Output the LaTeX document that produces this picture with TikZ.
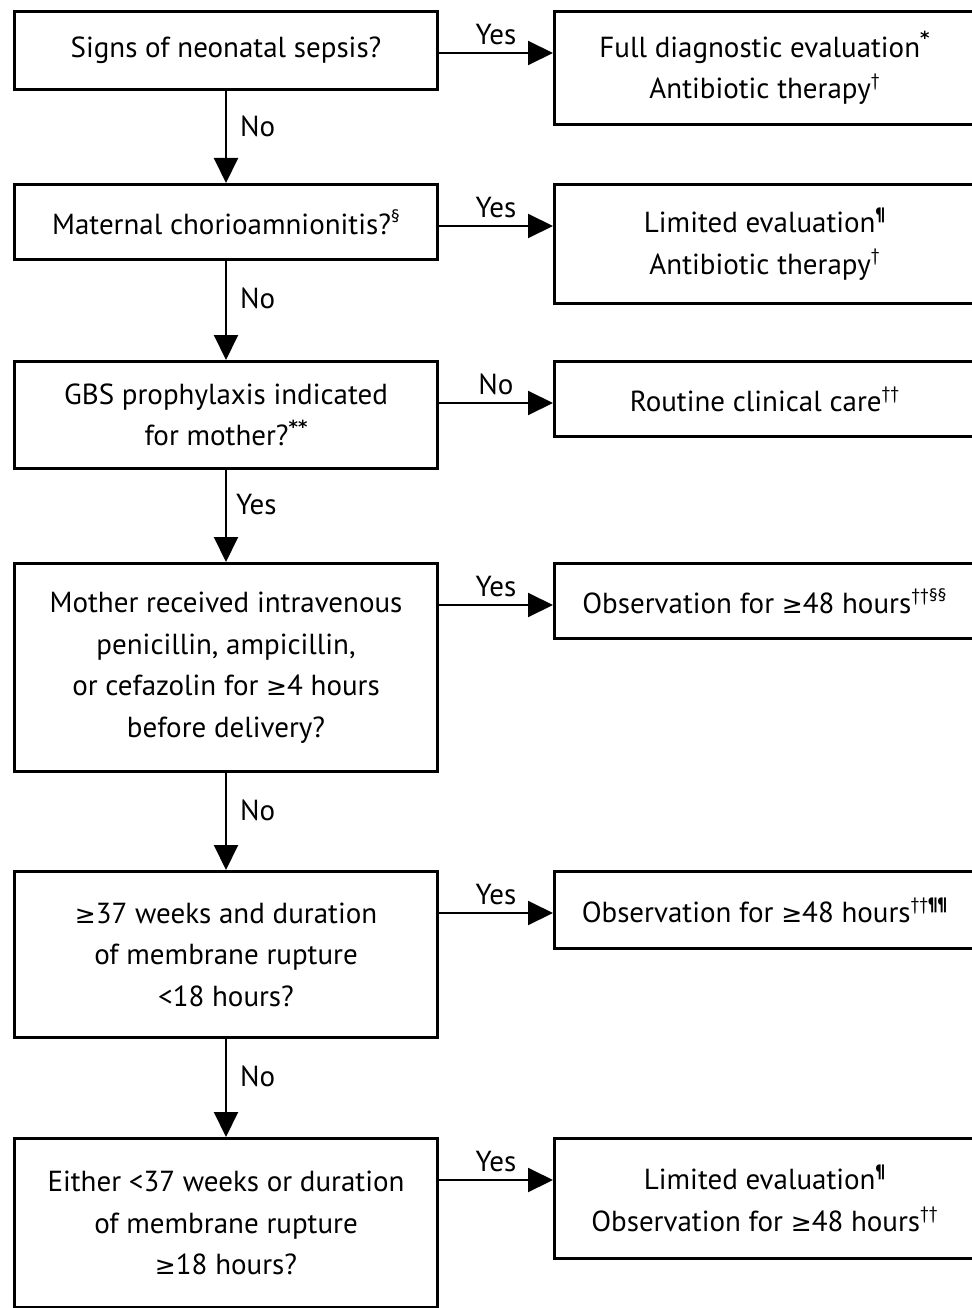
\documentclass[tikz,border=0pt]{standalone}
\usepackage{fontspec}
\setmainfont{PT Sans}
\newfontfamily\symfont{DejaVu Sans}
\usetikzlibrary{arrows.meta,positioning}
\newcommand{\fnm}[1]{\raisebox{0.42em}{\fontsize{18}{18}\selectfont #1}}
\newcommand{\gte}{{\symfont\fontsize{25}{25}\selectfont ≥}}
\newcommand{\fnast}{{\symfont\bfseries *}}
\tikzset{
  qbox/.style={draw=black,line width=3pt,fill=white,align=center,
               minimum width=423pt,inner sep=6pt,font=\fontsize{29}{41.5}\selectfont},
  abox/.style={qbox,minimum width=420pt},
  flow/.style={-{Triangle[length=25pt,width=24pt]},draw=black,line width=2pt},
  lbl/.style={font=\fontsize{29}{32}\selectfont,inner sep=3pt},
}

\begin{document}
\begin{tikzpicture}
  \useasboundingbox (0pt,0pt) rectangle (971pt,-1308pt);

  % Decision column
  \node[qbox,minimum height=78pt,anchor=north west] (q1) at (13pt,-10pt) {Signs of neonatal sepsis?};
  \node[qbox,minimum height=75pt,below=92pt of q1] (q2) {Maternal chorioamnionitis?\fnm{§}};
  \node[qbox,minimum height=107pt,below=99pt of q2] (q3) {GBS prophylaxis indicated\\for mother?\fnm{\fnast\fnast}};
  \node[qbox,minimum height=208pt,below=92pt of q3] (q4) {Mother received intravenous\\penicillin, ampicillin,\\or cefazolin for \gte4 hours\\before delivery?};
  \node[qbox,minimum height=166pt,below=97pt of q4] (q5) {\gte37 weeks and duration\\of membrane rupture\\<18 hours?};
  \node[qbox,minimum height=169pt,below=98pt of q5] (q6) {Either <37 weeks or duration\\of membrane rupture\\\gte18 hours?};

  % Action column
  \node[abox,minimum height=113pt,right=114pt of q1.north east,anchor=north west] (r1) {Full diagnostic evaluation\fnm{\fnast}\\Antibiotic therapy\fnm{†}};
  \node[abox,minimum height=119pt,right=114pt of q2.north east,anchor=north west] (r2) {Limited evaluation\fnm{\bfseries ¶}\\Antibiotic therapy\fnm{†}};
  \node[abox,minimum height=75pt,right=114pt of q3.north east,anchor=north west] (r3) {Routine clinical care\fnm{††}};
  \node[abox,minimum height=75pt,right=114pt of q4.north east,anchor=north west] (r4) {Observation for \gte48 hours\fnm{††§§}};
  \node[abox,minimum height=77pt,right=114pt of q5.north east,anchor=north west] (r5) {Observation for \gte48 hours\fnm{††\bfseries ¶¶}};
  \node[abox,minimum height=120pt,right=114pt of q6.north east,anchor=north west] (r6) {Limited evaluation\fnm{\bfseries ¶}\\Observation for \gte48 hours\fnm{††}};

  \draw[flow] (q1) -- node[lbl,pos=0.38,right=10pt]{No} (q2);
  \draw[flow] (q2) -- node[lbl,pos=0.38,right=10pt]{No} (q3);
  \draw[flow] (q3) -- node[lbl,pos=0.38,right=6pt]{Yes} (q4);
  \draw[flow] (q4) -- node[lbl,pos=0.38,right=10pt]{No} (q5);
  \draw[flow] (q5) -- node[lbl,pos=0.38,right=10pt]{No} (q6);

  % Side branches leave each box 43pt below its top
  \path ([yshift=-43pt]q1.north east) coordinate (b1);
  \path ([yshift=-43pt]q2.north east) coordinate (b2);
  \path ([yshift=-43pt]q3.north east) coordinate (b3);
  \path ([yshift=-43pt]q4.north east) coordinate (b4);
  \path ([yshift=-43pt]q5.north east) coordinate (b5);
  \path ([yshift=-43pt]q6.north east) coordinate (b6);
  \draw[flow] (b1) -- node[lbl,above=4pt]{Yes} (b1 -| r1.west);
  \draw[flow] (b2) -- node[lbl,above=4pt]{Yes} (b2 -| r2.west);
  \draw[flow] (b3) -- node[lbl,above=4pt]{No} (b3 -| r3.west);
  \draw[flow] (b4) -- node[lbl,above=4pt]{Yes} (b4 -| r4.west);
  \draw[flow] (b5) -- node[lbl,above=4pt]{Yes} (b5 -| r5.west);
  \draw[flow] (b6) -- node[lbl,above=4pt]{Yes} (b6 -| r6.west);
\end{tikzpicture}
\end{document}
